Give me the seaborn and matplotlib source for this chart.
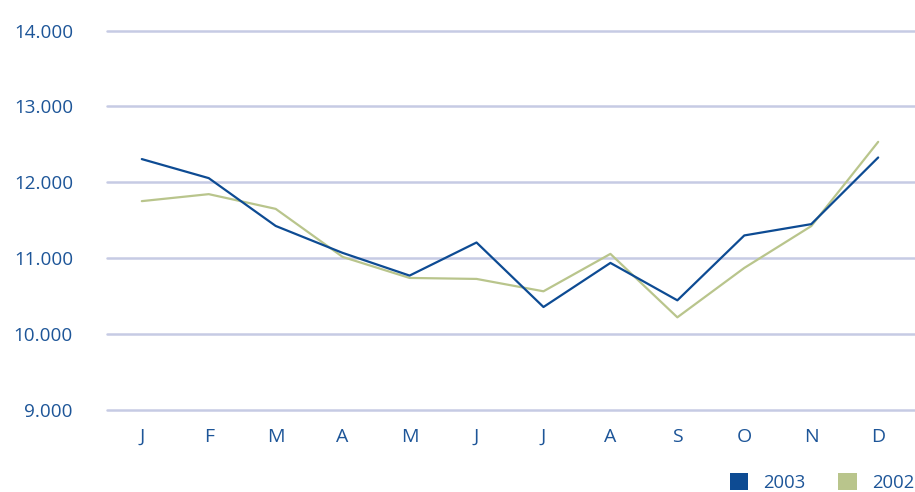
import seaborn as sns
import matplotlib.pyplot as plt
import pandas as pd
from matplotlib.patches import Patch

# monthly values
months = ['J', 'F', 'M', 'A', 'M', 'J', 'J', 'A', 'S', 'O', 'N', 'D']
values_2003 = [12306, 12055, 11425, 11070, 10771, 11207, 10357, 10938, 10445, 11300, 11449, 12327]
values_2002 = [11752, 11844, 11650, 11017, 10740, 10727, 10564, 11057, 10221, 10872, 11423, 12533]
y_ticks = [9000, 10000, 11000, 12000, 13000, 14000]
y_labels = ['9.000', '10.000', '11.000', '12.000', '13.000', '14.000']

blue = '#0d4b93'
olive = '#b9c58c'
text_color = '#1d5598'
grid_color = '#c6cbe4'

df = pd.DataFrame({'pos': range(len(months)), '2003': values_2003, '2002': values_2002})
df_long = df.melt(id_vars='pos', var_name='year', value_name='value')

sns.set_style('white')
plt.rcParams['font.family'] = ['Open Sans', 'DejaVu Sans']

fig = plt.figure(figsize=(9.15, 4.92), dpi=100)
ax = fig.add_axes([107 / 915, 1 - 410 / 492, 808 / 915, 381 / 492])

# grid lines behind the data
for t in y_ticks:
    ax.axhline(t, color=grid_color, lw=1.8, zorder=0, clip_on=False)

sns.lineplot(data=df_long, x='pos', y='value', hue='year', hue_order=['2002', '2003'],
             palette={'2003': blue, '2002': olive}, linewidth=1.6, legend=False, ax=ax)

ax.set_xlim(-0.52, 11.55)
ax.set_ylim(9000, 14020)
ax.set_xticks(range(len(months)))
ax.set_xticklabels(months, fontsize=14, color=text_color)
ax.set_yticks(y_ticks)
ax.set_yticklabels(y_labels, fontsize=13.6, color=text_color)
ax.tick_params(axis='both', length=0)
ax.tick_params(axis='y', pad=24.5)
ax.tick_params(axis='x', pad=13)
ax.set_xlabel('')
ax.set_ylabel('')
sns.despine(ax=ax, left=True, bottom=True)

handles = [Patch(facecolor=blue, edgecolor='none', label='2003'),
           Patch(facecolor=olive, edgecolor='none', label='2002')]
fig.legend(handles=handles, loc='lower right', bbox_to_anchor=(1.017, -0.033), ncol=2,
           frameon=False, fontsize=13.3, handlelength=1.0, handleheight=1.0,
           handletextpad=0.8, columnspacing=1.8, labelcolor=text_color)

plt.savefig('out.png', dpi=100)
plt.close()
